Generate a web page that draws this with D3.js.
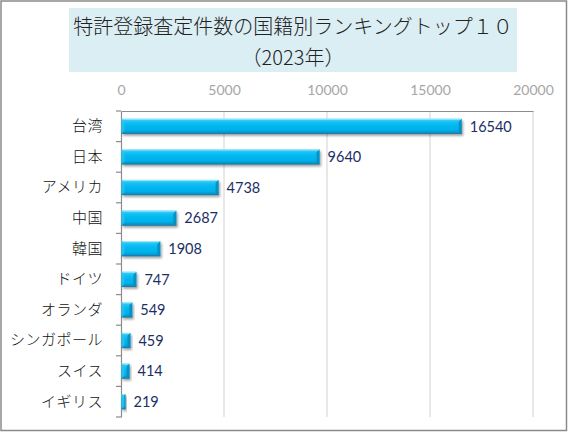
<!DOCTYPE html>
<html><head><meta charset="utf-8">
<script src="https://cdn.jsdelivr.net/npm/d3@7"></script>
<style>html,body{margin:0;padding:0;background:#fff;}svg{display:block;}</style>
</head><body>
<svg id="c" width="568" height="432"></svg>
<script>
const titleLines = ["特許登録査定件数の国籍別ランキングトップ１０", "（2023年）"];
const categories = ["台湾","日本","アメリカ","中国","韓国","ドイツ","オランダ","シンガポール","スイス","イギリス"];
const values = [16540, 9640, 4738, 2687, 1908, 747, 549, 459, 414, 219];
const xTicks = [0, 5000, 10000, 15000, 20000];

const svg = d3.select("#c");
const W = 568, H = 432;
const m = {left:121, right:533, top:111, bottom:417};

const defs = svg.append("defs");
const g1 = defs.append("linearGradient").attr("id","barg").attr("x1",0).attr("y1",0).attr("x2",0).attr("y2",1);
[[0,"#7fe0fb"],[0.12,"#30c8f5"],[0.3,"#08bcf2"],[0.75,"#00b0ea"],[0.9,"#0895c8"],[1,"#0b6f98"]].forEach(s=>g1.append("stop").attr("offset",s[0]).attr("stop-color",s[1]));
const f = defs.append("filter").attr("id","sh").attr("x","-10%").attr("y","-30%").attr("width","130%").attr("height","180%");
f.append("feDropShadow").attr("dx",1.5).attr("dy",2).attr("stdDeviation",1.2).attr("flood-color","#000").attr("flood-opacity",0.35);

// outer border
svg.append("rect").attr("x",1).attr("y",1).attr("width",W-2.5).attr("height",H-2.5)
  .attr("fill","#fff").attr("stroke","#8a8a8a").attr("stroke-width",1.5);

// title box
svg.append("rect").attr("x",69).attr("y",8).attr("width",448).attr("height",64).attr("fill","#dbeef4");
svg.selectAll("text.title").data(titleLines).join("text").attr("class","title")
  .attr("x",293).attr("y",(d,i)=>34+i*31).attr("text-anchor","middle")
  .attr("font-family","'Noto Sans CJK JP','Noto Sans',sans-serif").attr("font-weight",300)
  .attr("font-size",20).attr("fill","#222")
  .text(d=>d);

const x = d3.scaleLinear().domain([0,20000]).range([m.left, m.right]);
const y = d3.scaleBand().domain(categories).range([m.top, m.bottom]).paddingInner(0.5).paddingOuter(0.25);
const step = y.step();

// gridlines
svg.append("g").selectAll("line").data(xTicks.slice(1)).join("line")
  .attr("x1",d=>x(d)).attr("x2",d=>x(d)).attr("y1",m.top).attr("y2",m.bottom)
  .attr("stroke","#d9d9d9").attr("stroke-width",1.2);

// top axis
const xa = svg.append("g").attr("transform",`translate(0,${m.top})`)
  .call(d3.axisTop(x).tickValues(xTicks).tickSize(0).tickPadding(16).tickFormat(d3.format("d")));
xa.select(".domain").attr("stroke","#8c8c8c").attr("stroke-width",1.2);
xa.selectAll("text").attr("font-family","Lato,'Open Sans',sans-serif").attr("font-size",14).attr("fill","#a6a6a6");

// left axis
const ya = svg.append("g").attr("transform",`translate(${m.left},0)`)
  .call(d3.axisLeft(y).tickSize(0).tickPadding(18));
ya.select(".domain").attr("stroke","#8c8c8c").attr("stroke-width",1.2);
ya.selectAll("text").attr("font-family","'Noto Sans CJK JP',sans-serif").attr("font-weight",300)
  .attr("font-size",15).attr("letter-spacing","0.5px").attr("fill","#111");
const tickYs = d3.range(categories.length+1).map(i=>m.top + i*step);
svg.append("g").selectAll("line").data(tickYs).join("line")
  .attr("x1",m.left-5).attr("x2",m.left).attr("y1",d=>d).attr("y2",d=>d)
  .attr("stroke","#8c8c8c").attr("stroke-width",1.2);

// bars
const bars = svg.append("g").selectAll("g").data(categories).join("g");
bars.append("rect")
  .attr("x",m.left+0.5).attr("y",d=>y(d))
  .attr("width",(d,i)=>x(values[i])-m.left-0.5).attr("height",y.bandwidth())
  .attr("fill","url(#barg)").attr("filter","url(#sh)");
// right bevel
bars.append("path").attr("d",(d,i)=>{
  const xe = x(values[i]), y0 = y(d), h = y.bandwidth(), b = Math.min(3, (xe-m.left)/3);
  return `M${xe-b},${y0+b}L${xe},${y0}L${xe},${y0+h}L${xe-b},${y0+h-b}Z`;
}).attr("fill","#0a88b8").attr("opacity",0.85);
// left bevel
bars.append("path").attr("d",(d,i)=>{
  const xs = m.left+0.5, y0 = y(d), h = y.bandwidth(), b = 3;
  return `M${xs},${y0}L${xs+b},${y0+b}L${xs+b},${y0+h-b}L${xs},${y0+h}Z`;
}).attr("fill","#2ec4f0").attr("opacity",0.7);
// top highlight line
bars.append("line")
  .attr("x1",m.left+2).attr("x2",(d,i)=>x(values[i])-1)
  .attr("y1",d=>y(d)+0.5).attr("y2",d=>y(d)+0.5)
  .attr("stroke","#9be8fd").attr("stroke-width",1);

// value labels
bars.append("text")
  .attr("x",(d,i)=>x(values[i])+8).attr("y",d=>y(d)+y.bandwidth()/2)
  .attr("dy","0.36em")
  .attr("font-family","Lato,'Open Sans',sans-serif").attr("font-size",14.5).attr("fill","#1b2f66")
  .text((d,i)=>values[i]);
</script>
</body></html>
